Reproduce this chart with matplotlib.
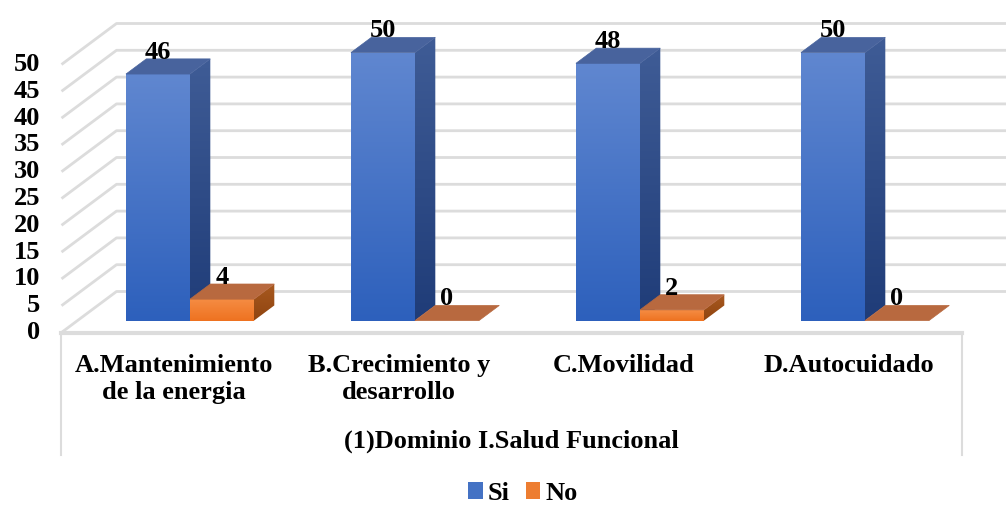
import numpy as np
import matplotlib.pyplot as plt
from matplotlib.patches import Polygon, Patch
from matplotlib.colors import LinearSegmentedColormap

categories = ['A.Mantenimiento\nde la energia', 'B.Crecimiento y\ndesarrollo',
              'C.Movilidad', 'D.Autocuidado']
si = [46, 50, 48, 50]
no = [4, 0, 2, 0]
yticks = list(range(0, 55, 5))
group_title = '(1)Dominio I.Salud Funcional'

plt.rcParams['font.family'] = ['Liberation Serif', 'DejaVu Serif']
plt.rcParams['font.weight'] = 'bold'
FS = 19

# pixel scale of the front plane
PXC = 225.0   # px per category
PXV = 5.36    # px per value unit
X0, Y0 = 61.5, 332.5
W, H = 1006, 507

# oblique depth of the whole floor, in data units
DX = 55 / PXC
DY = 41 / PXV
Z0, Z1 = 0.29, 0.66   # bars sit between these depths
BW = 64 / PXC

fig = plt.figure(figsize=(W / 100, H / 100), dpi=100)
ax = fig.add_axes([0, 0, 1, 1])
ax.set_xlim(-X0 / PXC, (W - X0) / PXC)
ax.set_ylim((Y0 - H) / PXV, Y0 / PXV)
ax.axis('off')
XMAX = (W - X0) / PXC


def proj(c, v, z):
    return c + z * DX, v + z * DY


def grad_face(pts, c_top, c_bot, zo):
    pts = np.array(pts)
    poly = Polygon(pts, closed=True, facecolor='none', edgecolor='none', zorder=zo)
    ax.add_patch(poly)
    cmap = LinearSegmentedColormap.from_list('f', [c_bot, c_top])
    im = ax.imshow(np.linspace(0, 1, 256).reshape(-1, 1), cmap=cmap, origin='lower',
                   extent=[pts[:, 0].min(), pts[:, 0].max(), pts[:, 1].min(), pts[:, 1].max()],
                   aspect='auto', interpolation='bilinear', zorder=zo)
    im.set_clip_path(poly)


def bar3d(c, v, front, side, top, zo):
    l, r = c, c + BW
    fl = [proj(l, 0, Z0), proj(r, 0, Z0), proj(r, v, Z0), proj(l, v, Z0)]
    sd = [proj(r, 0, Z0), proj(r, 0, Z1), proj(r, v, Z1), proj(r, v, Z0)]
    tp = [proj(l, v, Z0), proj(r, v, Z0), proj(r, v, Z1), proj(l, v, Z1)]
    if v > 0:
        grad_face(sd, side[0], side[1], zo)
        grad_face(fl, front[0], front[1], zo + 0.1)
    ax.add_patch(Polygon(tp, closed=True, facecolor=top, edgecolor=top, lw=0.5, zorder=zo + 0.2))


# back wall, left wall and floor edge
for t in yticks:
    ax.plot([0, DX, XMAX], [t, t + DY, t + DY], color='#dcdcdc', lw=2, zorder=1,
            solid_capstyle='butt')
    ax.text(-21.5 / PXC, t, str(t), ha='right', va='center', fontsize=FS)
ax.plot([0, 4], [0, 0], color='#dcdcdc', lw=3, zorder=1)
ybot = (Y0 - 455) / PXV
for c in (0, 4):
    ax.plot([c, c], [0, ybot], color='#dcdcdc', lw=1.5, zorder=1)

si_front = ('#6087d0', '#2d60bc')
si_side = ('#3f5c96', '#1f3c78')
si_top = '#48639d'
no_front = ('#f58c43', '#ee7220')
no_side = ('#a8591f', '#8f4410')
no_top = '#b8693f'

for i, (a, b) in enumerate(zip(si, no)):
    c = i + 0.5
    bar3d(c - BW, a, si_front, si_side, si_top, 3 + i)
    bar3d(c, b, no_front, no_side, no_top, 3.5 + i)
    for left, val in ((c - BW, a), (c, b)):
        # value sits above the back edge of the top face, centred on the front face
        ax.text(left + BW / 2 + Z0 * DX, val + Z1 * DY, str(val),
                ha='center', va='baseline', fontsize=FS, zorder=10)
    ax.text(c, (Y0 - 354) / PXV, categories[i], ha='center', va='top',
            fontsize=FS, linespacing=1.22)

ax.text(2, (Y0 - 441) / PXV, group_title, ha='center', va='center', fontsize=FS)

handles = [Patch(facecolor='#4472c4'), Patch(facecolor='#ed7d31')]
fig.legend(handles, ['Si', 'No'], ncol=2, frameon=False, loc='center',
           bbox_to_anchor=(523 / W, 1 - 493 / H), handlelength=0.55, handleheight=0.6,
           borderpad=0.1, columnspacing=0.6, handletextpad=0.2,
           prop={'size': FS, 'weight': 'bold'})

fig.savefig('out.png', dpi=100)
